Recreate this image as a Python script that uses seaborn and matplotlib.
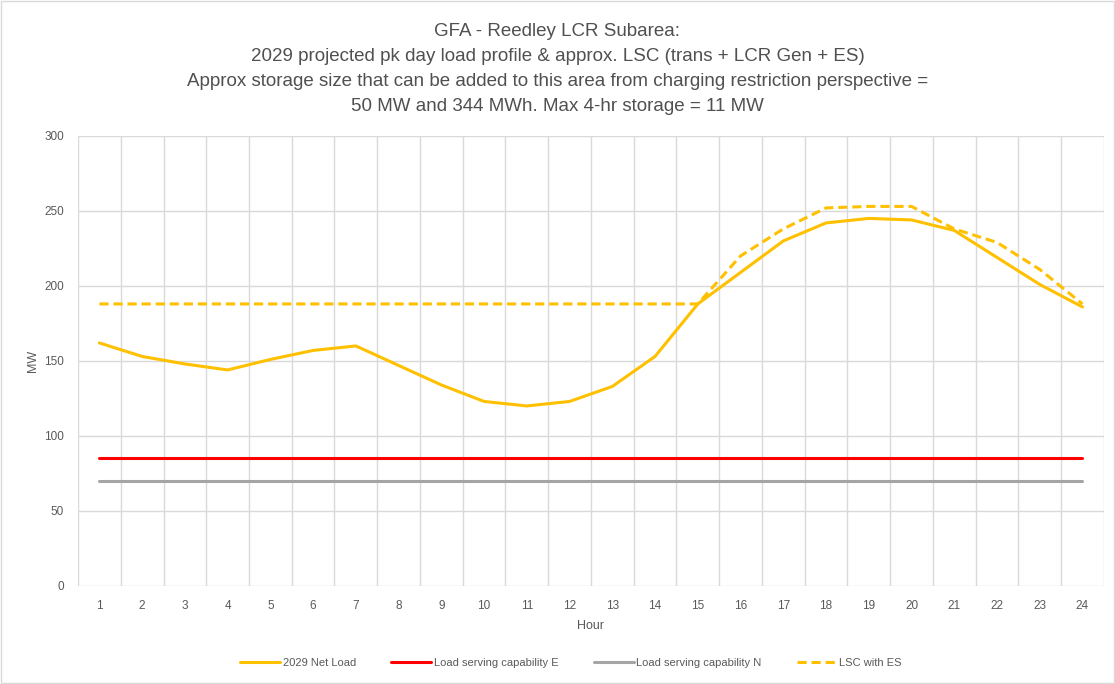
import numpy as np
import pandas as pd
import matplotlib
matplotlib.use("Agg")
import matplotlib.pyplot as plt
import matplotlib.patches as mpatches
import seaborn as sns

hours = list(range(1, 25))
net_load = [162, 153, 148, 144, 151, 157, 160, 147, 134, 123, 120, 123,
            133, 153, 188, 209, 230, 242, 245, 244, 237, 219, 201, 186]
lsc_e = [85] * 24
lsc_n = [70] * 24
lsc_es = [188, 188, 188, 188, 188, 188, 188, 188, 188, 188, 188, 188,
          188, 188, 188, 220, 238, 252, 253, 253, 238, 229, 211, 188]

series_names = ["2029 Net Load", "Load serving capability E",
                "Load serving capability N", "LSC with ES"]
series_colors = ["#FFC000", "#FF0000", "#A5A5A5", "#FFC000"]

title_lines = [
    "GFA - Reedley LCR Subarea:",
    "2029 projected pk day load profile & approx. LSC (trans + LCR Gen + ES)",
    "Approx storage size that can be added to this area from charging restriction perspective =",
    "50 MW and 344 MWh. Max 4-hr storage = 11 MW",
]

df = pd.DataFrame({
    "Hour": hours * 4,
    "MW": net_load + lsc_e + lsc_n + lsc_es,
    "Series": sum([[n] * 24 for n in series_names], []),
})

sns.set_theme(style="white")
plt.rcParams["font.family"] = ["Liberation Sans", "DejaVu Sans"]

fig = plt.figure(figsize=(11.15, 6.84), dpi=100)
ax = fig.add_axes([0.070, 0.1433, 0.920, 0.658])

sns.lineplot(
    data=df, x="Hour", y="MW", hue="Series", style="Series",
    palette=dict(zip(series_names, series_colors)),
    dashes={"2029 Net Load": "", "Load serving capability E": "",
            "Load serving capability N": "", "LSC with ES": (3, 1.6)},
    linewidth=2.2, ax=ax, legend=False, zorder=3,
)

ax.set_xlim(0.5, 24.5)
ax.set_ylim(0, 300)
ax.set_yticks(np.arange(0, 301, 50))
ax.set_xticks(hours)
ax.set_xticks(np.arange(0.5, 25, 1), minor=True)
ax.grid(False)
ax.grid(which="minor", axis="x", color="#d9d9d9", linewidth=1)
ax.grid(which="major", axis="y", color="#d9d9d9", linewidth=1)
ax.tick_params(axis="both", which="both", length=0, labelsize=8.5,
               labelcolor="#595959", pad=10)
for s in ax.spines.values():
    s.set_visible(False)

ax.set_xlabel("Hour", fontsize=9, color="#595959", labelpad=6)
ax.set_ylabel("MW", fontsize=9, color="#595959", labelpad=4)

fig.text(0.5, 0.966, "\n".join(title_lines), ha="center", va="top",
         fontsize=13.5, color="#505050", linespacing=1.6)

handles = [
    plt.Line2D([], [], color=series_colors[0], lw=2.2),
    plt.Line2D([], [], color=series_colors[1], lw=2.2),
    plt.Line2D([], [], color=series_colors[2], lw=2.2),
    plt.Line2D([], [], color=series_colors[3], lw=2.2, dashes=(3, 1.6)),
]
fig.legend(handles, series_names, loc="center", bbox_to_anchor=(0.512, 0.031),
           ncol=4, frameon=False, fontsize=8, handlelength=3.6,
           handletextpad=0.2, columnspacing=3.2, labelcolor="#595959")

fig.patches.append(mpatches.Rectangle((0.001, 0.001), 0.998, 0.998,
                                      transform=fig.transFigure, fill=False,
                                      edgecolor="#d9d9d9", linewidth=1))

fig.savefig("out.png", dpi=100)
